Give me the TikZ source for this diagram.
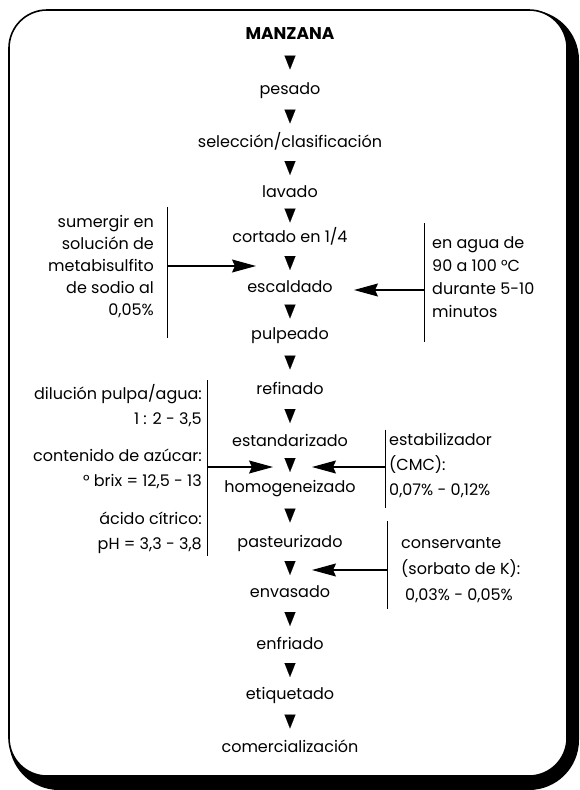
\documentclass[tikz,border=0pt]{standalone}
\usepackage{fontspec}
\setmainfont{Poppins}
\usetikzlibrary{arrows.meta, calc}

\tikzset{
  paso/.style={font=\fontsize{16}{18}\selectfont, inner sep=0pt, anchor=base},
  nota/.style={inner sep=0pt},
  bajada/.style={-{Triangle[length=14pt,width=11pt]}, line width=0.1pt},
  entrada/.style={-{Stealth[length=24pt,width=13pt,inset=3pt]}, line width=1.2pt},
}

\begin{document}
\begin{tikzpicture}[x=1pt, y=-1pt]
\useasboundingbox (0,0) rectangle (579,790);
\fill[black, rounded corners=50pt] (9,10) rectangle (579,790);
\filldraw[fill=white, draw=black, line width=1.6pt, rounded corners=38pt] (9,10) rectangle (567,776);

\node[paso, font=\fontsize{17}{20}\selectfont\bfseries] (s0) at (290,39) {MANZANA};
\foreach \i/\y/\t in {1/90/pesado, 2/143/{selección/clasificación}, 3/193/lavado,
    4/238/{cortado en 1/4}, 5/288/escaldado, 6/335/pulpeado, 7/390/refinado,
    8/442/estandarizado, 9/488/homogeneizado, 10/543/pasteurizado, 11/593/envasado,
    12/645/enfriado, 13/695/etiquetado, 14/748/comercialización}
  \node[paso] (s\i) at (290,\y+4) {\t};

\foreach \i [count=\j] in {0,...,13}
  \draw[bajada] ($(s\i.base)!0.5!(s\j.base)+(0,-11)$) -- ++(0,14);

% notas laterales
\node[nota, anchor=east, align=right, font=\fontsize{16}{22}\selectfont] (sumergir) at (154,267)
  {sumergir en\\solución de\\metabisulfito\\de sodio al\\0,05\%};
\draw ([xshift=13pt,yshift=9pt]sumergir.north east) -- ([xshift=13pt,yshift=-20pt]sumergir.south east);
\coordinate (sumergir-in) at ([xshift=13pt,yshift=1pt]sumergir.east);
\coordinate (sumergir-tip) at (256,266);
\draw[entrada] (sumergir-in) -- (sumergir-tip);

\node[nota, anchor=west, align=left, font=\fontsize{16}{23}\selectfont] (agua) at (432,277)
  {en agua de\\90 a 100 °C\\durante 5-10\\minutos};
\draw ([xshift=-8pt,yshift=13pt]agua.north west) -- ([xshift=-8pt,yshift=-24pt]agua.south west);
\coordinate (agua-in) at ([xshift=-8pt,yshift=-13pt]agua.west);
\coordinate (agua-tip) at (354,290);
\draw[entrada] (agua-in) -- (agua-tip);

\node[nota, anchor=east, align=right, font=\fontsize{16}{25}\selectfont] (dilucion) at (202,469)
  {dilución pulpa/agua:\\1 : 2 - 3,5\\[12pt]contenido de azúcar:\\° brix = 12,5 - 13\\[13pt]ácido cítrico:\\pH = 3,3 - 3,8};
\draw ([xshift=5pt,yshift=4pt]dilucion.north east) -- ([xshift=5pt,yshift=-2pt]dilucion.south east);
\coordinate (dilucion-in) at ([xshift=5pt,yshift=2pt]dilucion.east);
\coordinate (dilucion-tip) at (273,467);
\draw[entrada] (dilucion-in) -- (dilucion-tip);

\node[nota, anchor=west, align=left, font=\fontsize{16}{25}\selectfont] (estab) at (389,466)
  {estabilizador\\(CMC):\\0,07\% - 0,12\%};
\draw ([xshift=-4pt,yshift=4pt]estab.north west) -- ([xshift=-4pt,yshift=-10pt]estab.south west);
\coordinate (estab-in) at ([xshift=-4pt,yshift=-1pt]estab.west);
\coordinate (estab-tip) at (312,467);
\draw[entrada] (estab-in) -- (estab-tip);

\node[nota, anchor=west, align=left, font=\fontsize{16}{26}\selectfont] (conserv) at (401,570)
  {conservante\\(sorbato de K):\\\hspace*{4pt}0,03\% - 0,05\%};
\draw ([xshift=-14pt,yshift=16pt]conserv.north west) -- ([xshift=-14pt,yshift=-6pt]conserv.south west);
\coordinate (conserv-in) at ([xshift=-14pt]conserv.west);
\coordinate (conserv-tip) at (312,570);
\draw[entrada] (conserv-in) -- (conserv-tip);
\end{tikzpicture}
\end{document}
